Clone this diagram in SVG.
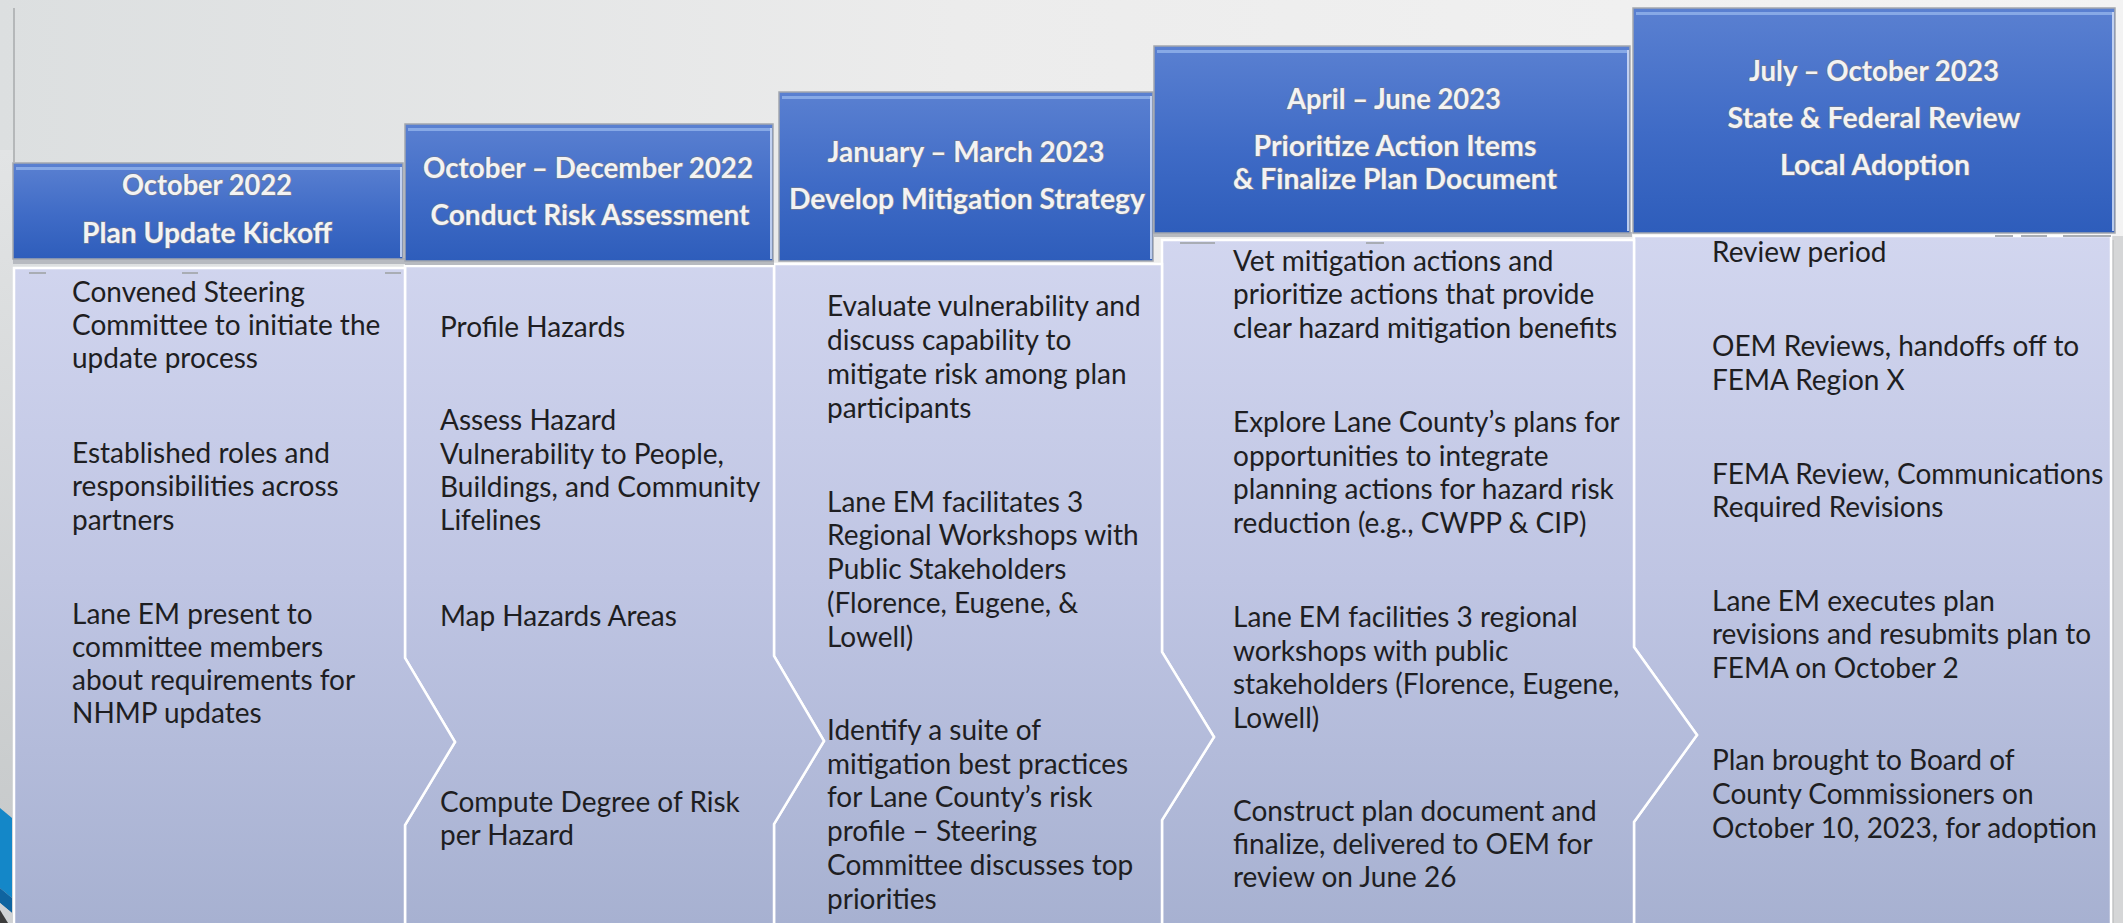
<svg xmlns="http://www.w3.org/2000/svg" width="2123" height="923" viewBox="0 0 2123 923">
<defs>
<linearGradient id="bg" x1="0" y1="0" x2="1" y2="0">
<stop offset="0" stop-color="#dcdfe0"/>
<stop offset="0.45" stop-color="#ececec"/>
<stop offset="1" stop-color="#f3f3f3"/>
</linearGradient>
<linearGradient id="hdr" x1="0" y1="0" x2="0" y2="1">
<stop offset="0" stop-color="#5a80d1"/>
<stop offset="0.55" stop-color="#3f6bc6"/>
<stop offset="1" stop-color="#2e5dbb"/>
</linearGradient>
<linearGradient id="body" gradientUnits="userSpaceOnUse" x1="0" y1="235" x2="0" y2="923">
<stop offset="0" stop-color="#d2d6ef"/>
<stop offset="0.5" stop-color="#bfc5e3"/>
<stop offset="1" stop-color="#a7b1d1"/>
</linearGradient>
<linearGradient id="leftstrip" x1="0" y1="0" x2="0" y2="1">
<stop offset="0" stop-color="#e2e4e5"/>
<stop offset="1" stop-color="#c4c7c8"/>
</linearGradient>
</defs>
<style>
.hbox{fill:url(#hdr);stroke:#a3a7ae;stroke-width:1.5}
.hl{fill:#8fb0ea;opacity:0.85}
.hr{fill:#dce6fa;opacity:0.8}
.sh{fill:#b7bac0}
.bd{fill:url(#body);stroke:#ffffff;stroke-width:2.5;stroke-linejoin:miter}
.ht{font-family:Lato,"Liberation Sans",sans-serif;font-weight:bold;font-size:28px;fill:#f3f3f3;stroke:#6f7a96;stroke-width:1.4;paint-order:stroke fill;text-anchor:middle}
.bt{font-family:Lato,"Liberation Sans",sans-serif;font-size:28px;fill:#1e1e22}
.tick{fill:#a9adb4}
</style>
<rect x="0" y="0" width="2123" height="923" fill="url(#bg)"/>
<rect x="0" y="150" width="13" height="773" fill="url(#leftstrip)"/>
<line x1="14" y1="8" x2="14" y2="162" stroke="#8d9092" stroke-width="1"/>
<rect x="2112" y="236" width="11" height="687" fill="#d5d6d7"/>
<line x1="2113" y1="240" x2="2113" y2="923" stroke="#bfc0c2" stroke-width="1.5"/>
<g id="decor">
<polygon points="0,808 12,818 12,898 0,888" fill="#1487c8"/>
<polygon points="0,888 12,898 12,913 0,903" fill="#0f64a0"/>
<polygon points="0,903 12,913 12,923 0,923" fill="#d0d2d4"/>
<polygon points="0,910 8,923 0,923" fill="#3b3b3b"/>
</g>
<g id="connectors">
<polygon class="bd" points="1634,236 2111,236 2111,925 1634,925 1634,822 1697,735 1634,647"/>
<polygon class="bd" points="1162,240 1634,240 1634,647 1697,735 1634,822 1634,925 1162,925 1162,820 1214,737 1162,652"/>
<polygon class="bd" points="774,264 1162,264 1162,652 1214,737 1162,820 1162,925 774,925 774,824 824,741 774,656"/>
<polygon class="bd" points="405,266 774,266 774,656 824,741 774,824 774,925 405,925 405,825 455,742 405,658"/>
<polygon class="bd" points="14,268 405,268 405,658 455,742 405,825 405,925 14,925"/>
<rect class="tick" x="29" y="272" width="17" height="2"/>
<rect class="tick" x="182" y="272" width="16" height="2"/>
<rect class="tick" x="385" y="272" width="16" height="2"/>
<rect class="tick" x="1180" y="242" width="35" height="2"/>
<rect class="tick" x="1366" y="242" width="18" height="2"/>
<rect class="tick" x="1995" y="235" width="18" height="2"/>
<rect class="tick" x="2021" y="235" width="26" height="2"/>
<rect class="tick" x="2063" y="235" width="48" height="2"/>
</g>
<g id="node1">
<rect class="sh" x="13" y="258" width="392" height="6"/>
<rect class="hbox" x="13" y="163" width="390" height="96"/>
<rect class="hl" x="16" y="167" width="384" height="3"/>
<rect class="hr" x="400" y="167" width="2" height="90"/>
<text class="ht" x="207" y="195" textLength="170" lengthAdjust="spacingAndGlyphs">October 2022</text>
<text class="ht" x="207" y="243" textLength="250" lengthAdjust="spacingAndGlyphs">Plan Update Kickoff</text>
<text class="bt"><tspan x="72" y="302">Convened Steering</tspan><tspan x="72" y="335">Committee to initiate the</tspan><tspan x="72" y="368">update process</tspan><tspan x="72" y="463">Established roles and</tspan><tspan x="72" y="496">responsibilities across</tspan><tspan x="72" y="530">partners</tspan><tspan x="72" y="624">Lane EM present to</tspan><tspan x="72" y="657">committee members</tspan><tspan x="72" y="690">about requirements for</tspan><tspan x="72" y="723">NHMP updates</tspan></text>
</g>
<g id="node2">
<rect class="sh" x="405" y="260" width="369" height="5"/>
<rect class="hbox" x="405" y="124" width="368" height="137"/>
<rect class="hl" x="408" y="128" width="362" height="3"/>
<rect class="hr" x="770" y="128" width="2" height="131"/>
<text class="ht" x="588" y="178" textLength="330" lengthAdjust="spacingAndGlyphs">October – December 2022</text>
<text class="ht" x="590" y="225" textLength="319" lengthAdjust="spacingAndGlyphs">Conduct Risk Assessment</text>
<text class="bt"><tspan x="440" y="337">Profile Hazards</tspan><tspan x="440" y="430">Assess Hazard</tspan><tspan x="440" y="464">Vulnerability to People,</tspan><tspan x="440" y="497">Buildings, and Community</tspan><tspan x="440" y="530">Lifelines</tspan><tspan x="440" y="626">Map Hazards Areas</tspan><tspan x="440" y="812">Compute Degree of Risk</tspan><tspan x="440" y="845">per Hazard</tspan></text>
</g>
<g id="node3">
<rect class="hbox" x="779" y="92" width="374" height="169"/>
<rect class="hl" x="782" y="96" width="368" height="3"/>
<rect class="hr" x="1150" y="96" width="2" height="163"/>
<text class="ht" x="966" y="162" textLength="277" lengthAdjust="spacingAndGlyphs">January – March 2023</text>
<text class="ht" x="967" y="209" textLength="356" lengthAdjust="spacingAndGlyphs">Develop Mitigation Strategy</text>
<text class="bt"><tspan x="827" y="316">Evaluate vulnerability and</tspan><tspan x="827" y="350">discuss capability to</tspan><tspan x="827" y="384">mitigate risk among plan</tspan><tspan x="827" y="418">participants</tspan><tspan x="827" y="512">Lane EM facilitates 3</tspan><tspan x="827" y="545">Regional Workshops with</tspan><tspan x="827" y="579">Public Stakeholders</tspan><tspan x="827" y="613">(Florence, Eugene, &amp;</tspan><tspan x="827" y="647">Lowell)</tspan><tspan x="827" y="740">Identify a suite of</tspan><tspan x="827" y="774">mitigation best practices</tspan><tspan x="827" y="807">for Lane County’s risk</tspan><tspan x="827" y="841">profile – Steering</tspan><tspan x="827" y="875">Committee discusses top</tspan><tspan x="827" y="909">priorities</tspan></text>
</g>
<g id="node4">
<rect class="sh" x="1154" y="232" width="478" height="5"/>
<rect class="hbox" x="1154" y="46" width="476" height="187"/>
<rect class="hl" x="1157" y="50" width="470" height="3"/>
<rect class="hr" x="1627" y="50" width="2" height="181"/>
<text class="ht" x="1394" y="109" textLength="214" lengthAdjust="spacingAndGlyphs">April – June 2023</text>
<text class="ht" x="1395" y="156" textLength="283" lengthAdjust="spacingAndGlyphs">Prioritize Action Items</text>
<text class="ht" x="1395" y="189" textLength="324" lengthAdjust="spacingAndGlyphs">&amp; Finalize Plan Document</text>
<text class="bt"><tspan x="1233" y="271">Vet mitigation actions and</tspan><tspan x="1233" y="304">prioritize actions that provide</tspan><tspan x="1233" y="338">clear hazard mitigation benefits</tspan><tspan x="1233" y="432">Explore Lane County’s plans for</tspan><tspan x="1233" y="466">opportunities to integrate</tspan><tspan x="1233" y="499">planning actions for hazard risk</tspan><tspan x="1233" y="533">reduction (e.g., CWPP &amp; CIP)</tspan><tspan x="1233" y="627">Lane EM facilities 3 regional</tspan><tspan x="1233" y="661">workshops with public</tspan><tspan x="1233" y="694">stakeholders (Florence, Eugene,</tspan><tspan x="1233" y="728">Lowell)</tspan><tspan x="1233" y="821">Construct plan document and</tspan><tspan x="1233" y="854">finalize, delivered to OEM for</tspan><tspan x="1233" y="887">review on June 26</tspan></text>
</g>
<g id="node5">
<rect class="hbox" x="1633" y="8" width="482" height="225"/>
<rect class="hl" x="1636" y="12" width="476" height="3"/>
<rect class="hr" x="2112" y="12" width="2" height="219"/>
<text class="ht" x="1874" y="81" textLength="250" lengthAdjust="spacingAndGlyphs">July – October 2023</text>
<text class="ht" x="1874" y="128" textLength="293" lengthAdjust="spacingAndGlyphs">State &amp; Federal Review</text>
<text class="ht" x="1875" y="175" textLength="190" lengthAdjust="spacingAndGlyphs">Local Adoption</text>
<text class="bt"><tspan x="1712" y="262">Review period</tspan><tspan x="1712" y="356">OEM Reviews, handoffs off to</tspan><tspan x="1712" y="390">FEMA Region X</tspan><tspan x="1712" y="484">FEMA Review, Communications</tspan><tspan x="1712" y="517">Required Revisions</tspan><tspan x="1712" y="611">Lane EM executes plan</tspan><tspan x="1712" y="644">revisions and resubmits plan to</tspan><tspan x="1712" y="678">FEMA on October 2</tspan><tspan x="1712" y="770">Plan brought to Board of</tspan><tspan x="1712" y="804">County Commissioners on</tspan><tspan x="1712" y="838">October 10, 2023, for adoption</tspan></text>
</g>
</svg>
